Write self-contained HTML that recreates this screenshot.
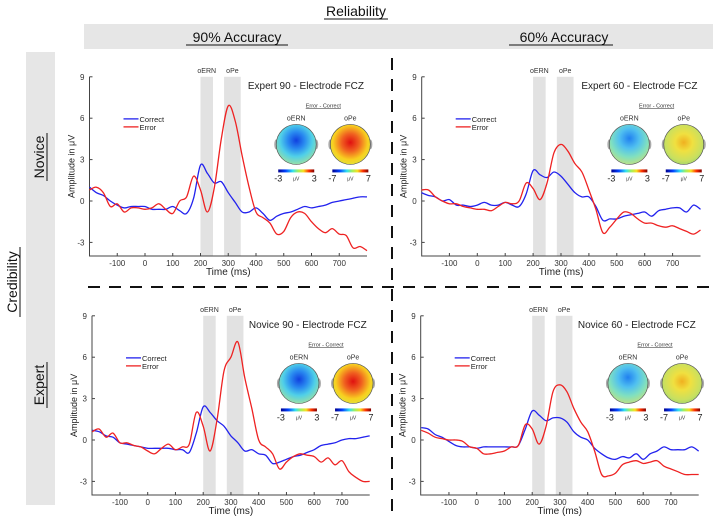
<!DOCTYPE html>
<html><head><meta charset="utf-8">
<style>
html,body{margin:0;padding:0;background:#fff;}
svg{display:block;font-family:"Liberation Sans",Arial,sans-serif;}
</style></head>
<body>
<svg id="fig" width="713" height="520" viewBox="0 0 713 520" xmlns="http://www.w3.org/2000/svg">
<defs>
<radialGradient id="gBlue" cx="0.5" cy="0.4" r="0.62">
<stop offset="0" stop-color="#1040e0"/><stop offset="0.35" stop-color="#2a8cf0"/><stop offset="0.65" stop-color="#50d0e8"/><stop offset="1" stop-color="#9ee0a0"/></radialGradient>
<radialGradient id="gBlue2" cx="0.5" cy="0.35" r="0.62">
<stop offset="0" stop-color="#2080f0"/><stop offset="0.4" stop-color="#50c0f0"/><stop offset="0.75" stop-color="#80e0c0"/><stop offset="1" stop-color="#b0e090"/></radialGradient>
<radialGradient id="gRed" cx="0.5" cy="0.45" r="0.62">
<stop offset="0" stop-color="#e01010"/><stop offset="0.35" stop-color="#f06020"/><stop offset="0.7" stop-color="#f8d020"/><stop offset="1" stop-color="#d8e840"/></radialGradient>
<radialGradient id="gYel" cx="0.5" cy="0.45" r="0.62">
<stop offset="0" stop-color="#f0b020"/><stop offset="0.35" stop-color="#f0e040"/><stop offset="0.75" stop-color="#c8e060"/><stop offset="1" stop-color="#90d070"/></radialGradient>
<linearGradient id="gJet" x1="0" x2="1" y1="0" y2="0">
<stop offset="0" stop-color="#00008f"/><stop offset="0.2" stop-color="#0040ff"/><stop offset="0.4" stop-color="#30e0f0"/><stop offset="0.55" stop-color="#a0f060"/><stop offset="0.7" stop-color="#f8e020"/><stop offset="0.85" stop-color="#ff3000"/><stop offset="1" stop-color="#800000"/></linearGradient>
</defs>

<text x="356" y="16" font-size="14" text-anchor="middle" fill="#111">Reliability</text>
<line x1="324" y1="19" x2="388" y2="19" stroke="#111" stroke-width="1"/>
<rect x="84" y="24" width="629" height="25" fill="#e6e6e6"/>
<text x="237" y="42" font-size="14" text-anchor="middle" fill="#111">90% Accuracy</text>
<line x1="186" y1="45" x2="288" y2="45" stroke="#111"/>
<text x="564" y="42" font-size="14" text-anchor="middle" fill="#111">60% Accuracy</text>
<line x1="509" y1="45" x2="613" y2="45" stroke="#111"/>

<rect x="26" y="52" width="29" height="453" fill="#e6e6e6"/>
<text transform="translate(17,282) rotate(-90)" font-size="14" text-anchor="middle" fill="#111">Credibility</text>
<line x1="20" y1="247" x2="20" y2="317" stroke="#111"/>
<text transform="translate(44,157) rotate(-90)" font-size="14" text-anchor="middle" fill="#111">Novice</text>
<line x1="47" y1="133" x2="47" y2="181" stroke="#111"/>
<text transform="translate(44,385) rotate(-90)" font-size="14" text-anchor="middle" fill="#111">Expert</text>
<line x1="47" y1="362" x2="47" y2="408" stroke="#111"/>

<line x1="392" y1="58" x2="392" y2="520" stroke="#111" stroke-width="2" stroke-dasharray="12,9"/>
<line x1="88" y1="287" x2="713" y2="287" stroke="#111" stroke-width="2" stroke-dasharray="12,9"/>
<g id="panels"></g>
</svg>
<script>
// shared time axis (ms)
const times = [-200,-175,-150,-125,-100,-75,-50,-25,0,25,50,75,100,125,150,175,200,225,250,275,300,325,350,375,400,425,450,475,500,525,550,575,600,625,650,675,700,725,750,775,800];
const xTicks = [-100,0,100,200,300,400,500,600,700];
const yTicks = [-3,0,3,6,9];
const panelTitles = ["Expert 90 - Electrode FCZ","Expert 60 - Electrode FCZ","Novice 90 - Electrode FCZ","Novice 60 - Electrode FCZ"];
const windowOERN = [200,245];
const windowOPe = [285,345];
const pe90Scale = [-7,7];
const ern90Scale = [-3,3];

const correctExpert90 = [1.0,0.6,0.4,0.0,-0.3,-0.5,-0.4,-0.4,-0.4,-0.6,-0.6,-0.6,-0.4,-0.7,-0.9,0.2,2.6,2.0,1.3,1.4,0.6,-0.1,-0.8,-0.8,-0.5,-0.9,-1.4,-1.1,-0.9,-0.8,-0.6,-0.4,-0.5,-0.4,-0.3,-0.1,0.0,0.1,0.2,0.3,0.3];
const errorExpert90 = [0.8,1.0,0.6,-0.4,-0.2,-0.8,-0.5,-0.5,-0.6,-0.5,-0.2,-0.6,-0.9,0.0,0.3,1.8,0.8,-0.8,1.0,4.5,6.9,5.8,3.3,1.0,-0.8,-1.2,-1.6,-2.4,-2.2,-1.2,-0.8,-0.9,-1.5,-2.0,-2.3,-2.0,-2.4,-2.5,-3.4,-3.3,-3.6];
const correctExpert60 = [0.6,0.4,0.3,0.0,0.1,-0.3,-0.3,-0.4,-0.3,-0.1,-0.3,-0.3,-0.1,-0.3,-0.4,0.5,2.2,1.9,1.7,2.1,1.8,1.2,0.6,0.3,0.3,-0.4,-1.4,-1.3,-1.3,-1.1,-1.0,-0.9,-0.8,-1.1,-0.7,-0.6,-0.5,-0.5,-0.8,-0.3,-0.6];
const errorExpert60 = [0.8,0.8,0.3,0.0,-0.2,-0.2,-0.4,-0.5,-0.6,-0.6,-0.7,-0.4,-0.1,-0.2,0.0,1.3,0.9,0.1,1.3,3.5,4.1,3.6,2.7,2.1,0.8,-0.6,-2.3,-1.9,-1.3,-0.8,-0.9,-1.3,-1.6,-1.6,-1.8,-1.9,-1.8,-2.0,-2.2,-2.4,-2.1];
const correctNovice90 = [0.7,0.6,0.3,0.2,-0.2,-0.3,-0.4,-0.5,-0.6,-0.6,-0.6,-0.6,-0.7,-0.7,-0.9,0.5,2.4,2.0,1.4,1.0,0.3,-0.2,-0.8,-0.7,-1.0,-1.1,-1.7,-1.6,-1.4,-1.2,-1.1,-0.9,-0.7,-0.4,-0.3,-0.2,0.0,0.1,0.1,0.2,0.3];
const errorNovice90 = [0.6,0.8,0.2,0.5,-0.2,-0.2,-0.4,-0.5,-0.8,-1.0,-0.6,-0.3,-0.7,-0.5,-0.3,2.0,1.0,-0.8,1.5,5.0,6.0,7.1,4.5,2.3,0.0,-0.5,-1.0,-2.1,-1.6,-1.2,-1.0,-1.1,-1.2,-1.6,-1.3,-1.8,-1.5,-2.3,-2.7,-3.0,-3.0];
const correctNovice60 = [0.9,0.8,0.4,0.2,-0.1,-0.4,-0.5,-0.5,-0.6,-0.5,-0.5,-0.5,-0.5,-0.5,-0.4,0.8,2.1,1.8,1.4,1.6,1.6,1.3,0.6,0.2,0.0,-0.6,-1.0,-1.3,-1.4,-1.2,-1.3,-1.0,-1.4,-1.0,-0.8,-0.5,-0.7,-0.7,-0.7,-0.5,-0.8];
const errorNovice60 = [0.7,0.5,0.2,0.1,0.0,0.0,-0.1,-0.5,-0.6,-1.0,-1.0,-0.9,-0.8,-0.5,-0.4,1.1,0.8,-0.3,1.0,3.5,4.0,3.5,2.3,1.3,0.6,-0.8,-2.5,-2.6,-2.4,-1.8,-1.6,-1.5,-1.7,-1.6,-1.5,-1.9,-2.1,-2.3,-2.5,-2.5,-2.5];

const seriesCorrect = [correctExpert90, correctExpert60, correctNovice90, correctNovice60];
const seriesError = [errorExpert90, errorExpert60, errorNovice90, errorNovice60];

// layout (pixels) — not data
const layout = [
 {x0:145, kx:0.2775, y0:201, ky:13.8, left:89.5, bottom:256, pe:"gRed", ern:"gBlue"},
 {x0:477.3, kx:0.279, y0:201, ky:13.8, left:421.7, bottom:256, pe:"gYel", ern:"gBlue2"},
 {x0:147.7, kx:0.2775, y0:440, ky:13.8, left:92, bottom:495, pe:"gRed", ern:"gBlue"},
 {x0:476.7, kx:0.2775, y0:440, ky:13.8, left:420.7, bottom:495, pe:"gYel", ern:"gBlue2"}
];
const NS="http://www.w3.org/2000/svg";
const root=document.getElementById('panels');
function mk(tag,attrs,parent,txt){const e=document.createElementNS(NS,tag);for(const k in attrs)e.setAttribute(k,attrs[k]);if(txt!==undefined)e.textContent=txt;(parent||root).appendChild(e);return e;}
function smooth(pts){let d="M"+pts[0][0].toFixed(1)+","+pts[0][1].toFixed(1);
 for(let i=0;i<pts.length-1;i++){const p0=pts[i-1]||pts[i],p1=pts[i],p2=pts[i+1],p3=pts[i+2]||p2;
  const c1=[p1[0]+(p2[0]-p0[0])/6,p1[1]+(p2[1]-p0[1])/6],c2=[p2[0]-(p3[0]-p1[0])/6,p2[1]-(p3[1]-p1[1])/6];
  d+=" C"+c1[0].toFixed(1)+","+c1[1].toFixed(1)+" "+c2[0].toFixed(1)+","+c2[1].toFixed(1)+" "+p2[0].toFixed(1)+","+p2[1].toFixed(1);}
 return d;}

layout.forEach((L,pi)=>{
 const X=t=>L.x0+t*L.kx, Y=v=>L.y0-v*L.ky;
 const g=mk('g',{});
 
 
 const top=Y(9), right=X(800);
 [windowOERN,windowOPe].forEach((w,wi)=>{
  const r=mk('rect',{x:X(w[0]),y:top,width:X(w[1])-X(w[0]),height:L.bottom-top,fill:'#e2e2e2'},g);
  
  
  const t=mk('text',{x:(X(w[0])+X(w[1]))/2,y:top-4,'font-size':7,'text-anchor':'middle',fill:'#333'},g,wi?'oPe':'oERN');
  
  
 });
 const ax=mk('path',{d:`M${L.left},${top} L${L.left},${L.bottom} L${right},${L.bottom}`,fill:'none',stroke:'#444','stroke-width':1},g);
 
 
 yTicks.forEach(v=>{
  mk('line',{x1:L.left,x2:L.left+3,y1:Y(v),y2:Y(v),stroke:'#444'},g);
  const t=mk('text',{x:L.left-5,y:Y(v)+3,'font-size':8,'text-anchor':'end',fill:'#333'},g,String(v));
  
  
 });
 xTicks.forEach(v=>{
  mk('line',{x1:X(v),x2:X(v),y1:L.bottom,y2:L.bottom-3,stroke:'#444'},g);
  const t=mk('text',{x:X(v),y:L.bottom+10,'font-size':8,'text-anchor':'middle',fill:'#333'},g,String(v));
  
  
 });
 const xt=mk('text',{x:(L.left+right)/2,y:L.bottom+19,'font-size':10,'text-anchor':'middle',fill:'#222'},g,'Time (ms)');
 
 
 const yt=mk('text',{transform:`translate(${L.left-15},${(top+L.bottom)/2}) rotate(-90)`,'font-size':9,'text-anchor':'middle',fill:'#222'},g,'Amplitude in  μV');
 
 
 [[seriesCorrect[pi],'#2222ee','correct-line'],[seriesError[pi],'#ee2222','error-line']].forEach(s=>{
  const pts=s[0].map((v,i)=>[X(times[i]),Y(v)]);
  const p=mk('path',{d:smooth(pts),fill:'none',stroke:s[1],'stroke-width':1.3},g);
  
  
 });
 // legend
 const lx=L.left+34, ly=Y(5.95);
 [['Correct','#2222ee'],['Error','#ee2222']].forEach((e,i)=>{
  const lg=mk('g',{},g);
  
  
  mk('line',{x1:lx,x2:lx+15,y1:ly+i*8,y2:ly+i*8,stroke:e[1],'stroke-width':1.3},lg);
  mk('text',{x:lx+16,y:ly+i*8+3,'font-size':7.5,fill:'#222'},lg,e[0]);
 });
 // title
 const tt=mk('text',{x:right-3,y:Y(8.1),'font-size':10,'text-anchor':'end',fill:'#222'},g,panelTitles[pi]);
 
 
 const cx1=X(545), cx2=X(740), cy=Y(4.1);
 const ec=mk('text',{x:(cx1+cx2)/2,y:cy-37,'font-size':5.5,'text-anchor':'middle',fill:'#333','text-decoration':'underline'},g,'Error - Correct');
 
 
 [[cx1,L.ern,'oERN',ern90Scale],[cx2,L.pe,'oPe',pe90Scale]].forEach(m=>{
  const tg=mk('g',{},g);
  
  
  mk('text',{x:m[0],y:cy-24,'font-size':7,'text-anchor':'middle',fill:'#333'},tg,m[2]);
  mk('ellipse',{cx:m[0]-20,cy:cy,rx:2,ry:5,fill:'#aaa'},tg);
  mk('ellipse',{cx:m[0]+20,cy:cy,rx:2,ry:5,fill:'#aaa'},tg);
  mk('circle',{cx:m[0],cy:cy,r:20,fill:`url(#${m[1]})`,stroke:'#555','stroke-width':0.7},tg);
  mk('rect',{x:m[0]-18,y:cy+25,width:36,height:3,fill:'url(#gJet)'},tg);
  mk('text',{x:m[0]-18,y:cy+37,'font-size':9,'text-anchor':'middle',fill:'#222'},tg,String(m[3][0]));
  mk('text',{x:m[0],y:cy+36,'font-size':5,'text-anchor':'middle',fill:'#333'},tg,'μV');
  mk('text',{x:m[0]+18,y:cy+37,'font-size':9,'text-anchor':'middle',fill:'#222'},tg,String(m[3][1]));
 });
});
</script>
</body></html>
